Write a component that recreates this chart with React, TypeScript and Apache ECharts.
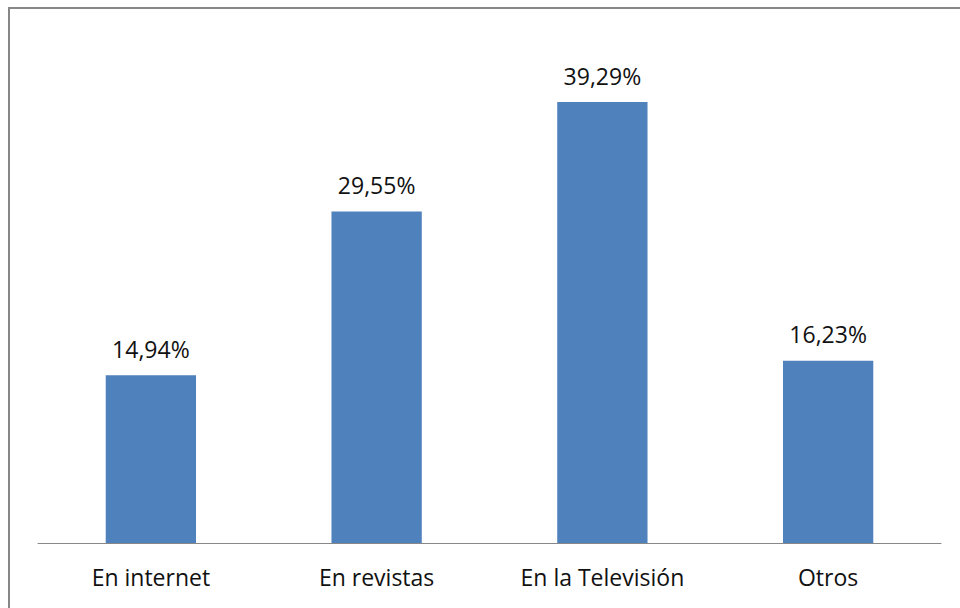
import React, { useEffect, useRef } from "react";
import * as echarts from "echarts";

const categories = ["En internet", "En revistas", "En la Televisión", "Otros"];
const values = [14.94, 29.55, 39.29, 16.23];
const valueLabels = ["14,94%", "29,55%", "39,29%", "16,23%"];

export default function App() {
  const ref = useRef<HTMLDivElement>(null);
  useEffect(() => {
    document.body.style.margin = "0";
    const chart = echarts.init(ref.current!, null, { renderer: "svg" });
    chart.setOption({
      animation: false,
      backgroundColor: "#ffffff",
      textStyle: { fontFamily: "Open Sans" },
      graphic: [
        {
          type: "rect",
          shape: { x: 9, y: 8, width: 1000, height: 700 },
          style: { fill: "none", stroke: "#878787", lineWidth: 2 },
          z: 100,
        },
      ],
      grid: { left: 38, right: 19, top: 38, bottom: 65, containLabel: false },
      xAxis: {
        type: "category",
        data: categories,
        axisLine: { show: true, lineStyle: { color: "#888888", width: 1 } },
        axisTick: { show: false },
        axisLabel: { color: "#111111", fontSize: 23, margin: 22, fontFamily: "Open Sans" },
      },
      yAxis: {
        type: "value",
        min: 0,
        max: 45,
        show: false,
        splitLine: { show: false },
      },
      series: [
        {
          type: "bar",
          data: values,
          barWidth: "40%",
          itemStyle: { color: "#4F81BD" },
          label: {
            show: true,
            position: "top",
            distance: 15,
            color: "#111111",
            fontSize: 23,
            fontFamily: "Open Sans",
            formatter: (p: any) => valueLabels[p.dataIndex],
          },
        },
      ],
    });
    return () => chart.dispose();
  }, []);
  return <div ref={ref} style={{ width: 960, height: 608 }} />;
}
